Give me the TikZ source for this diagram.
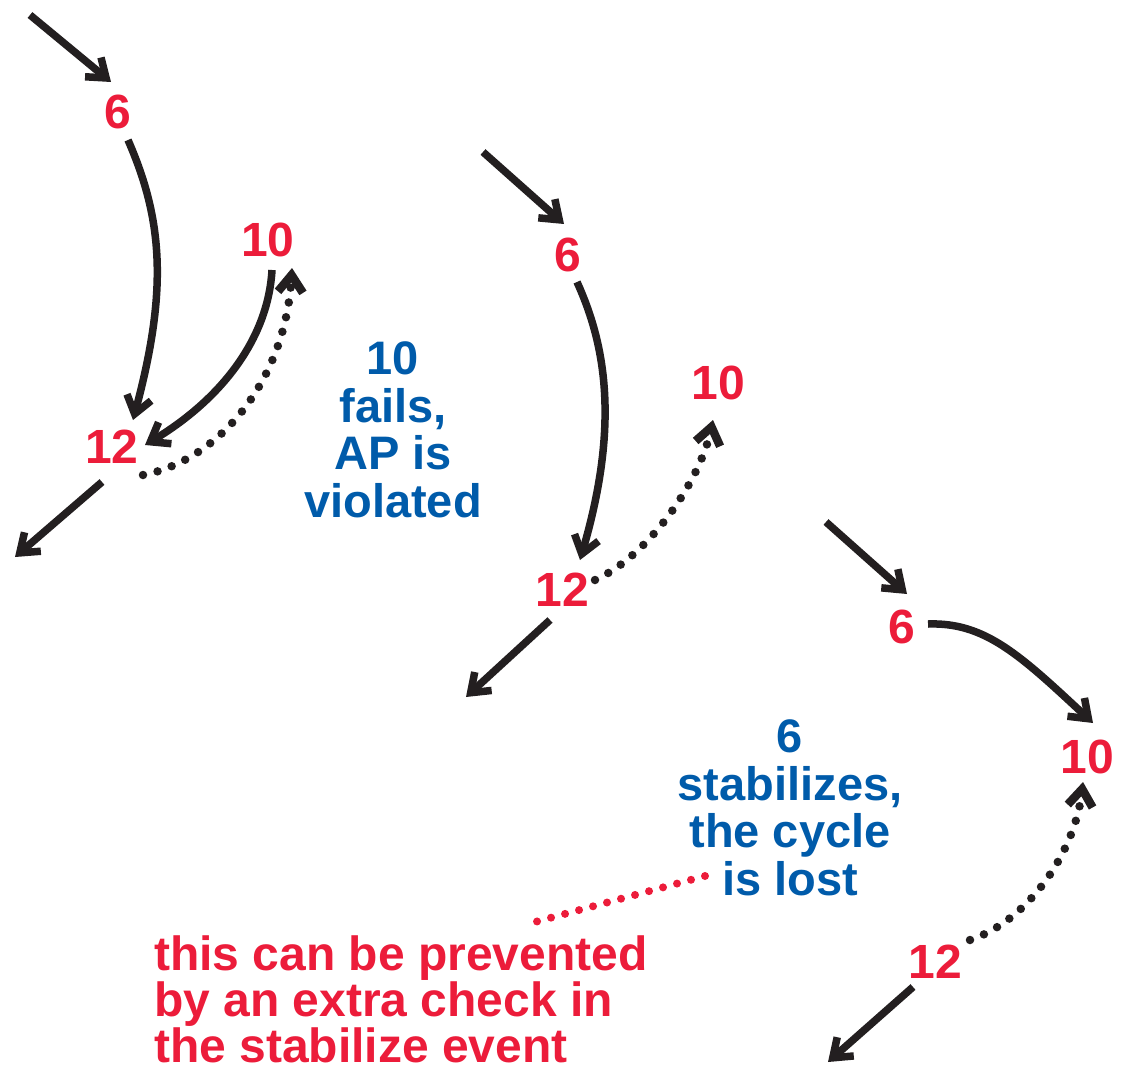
\documentclass[tikz,border=0pt]{standalone}
\usepackage{fontspec}
\setmainfont{Liberation Sans}
\usetikzlibrary{arrows.meta}
\definecolor{nred}{RGB}{236,28,58}
\definecolor{nblue}{RGB}{0,91,170}
\definecolor{ink}{RGB}{35,31,32}
\begin{document}
\begin{tikzpicture}[x=1pt,y=-1pt,
  num/.style={text=nred, font=\fontsize{48}{48}\selectfont\bfseries, inner sep=0pt},
  note/.style={text=nblue, font=\fontsize{47}{47.5}\selectfont\bfseries, align=center, inner sep=0pt},
  remark/.style={text=nred, font=\fontsize{48}{46}\selectfont\bfseries, align=left, inner sep=0pt},
  tip/.style={-{Straight Barb[length=17pt,width=25pt]}},
  link/.style={draw=ink, line width=7.5pt, tip},
  dots/.style={draw=ink, line width=8.5pt, line cap=round, dash pattern=on 0pt off 15pt, tip},
  reddots/.style={draw=nred, line width=8pt, line cap=round, dash pattern=on 0pt off 14.5pt}
]
\useasboundingbox (0,0) rectangle (1126,1067);

% ---------- group 1 ----------
\node[num] (a6) at (118,112) {6};
\node[num] (a12) at (112,447) {12};
\node[num] (a10) at (268,240) {10};
\coordinate (ain) at (30,15);
\coordinate (aout) at (15,557);
\draw[link] (ain) -- ([shift={(-7,-30)}]a6.center);
\draw[link] ([shift={(10,28)}]a6.center) .. controls (163,220) and (168,290) .. ([shift={(21,-27)}]a12.center);
\draw[link] ([shift={(4,30)}]a10.center) .. controls (268,340) and (220,400) .. ([shift={(33,-2)}]a12.center);
\draw[dots] ([shift={(31,28)}]a12.center) .. controls (220,460) and (285,380) .. ([shift={(24,28)}]a10.center);
\draw[link] ([shift={(-10,35)}]a12.center) -- (aout);

\node[note] (n1) at (393,430) {10\\fails,\\AP is\\violated};

% ---------- group 2 ----------
\node[num] (b6) at (568,255) {6};
\node[num] (b12) at (562,590) {12};
\node[num] (b10) at (718,383) {10};
\coordinate (bin) at (483,152);
\coordinate (bout) at (466,697);
\draw[link] (bin) -- ([shift={(-4,-31)}]b6.center);
\draw[link] ([shift={(9,27)}]b6.center) .. controls (608,350) and (618,430) .. ([shift={(18,-30)}]b12.center);
\draw[dots] ([shift={(33,-10)}]b12.center) .. controls (650,555) and (700,480) .. ([shift={(-5,37)}]b10.center);
\draw[link] ([shift={(-12,30)}]b12.center) -- (bout);

% ---------- group 3 ----------
\node[num] (c6) at (902,627) {6};
\node[num] (c10) at (1087,757) {10};
\node[num] (c12) at (935,962) {12};
\coordinate (cin) at (826,522);
\coordinate (cout) at (828,1062);
\draw[link] (cin) -- ([shift={(5,-33)}]c6.center);
\draw[link] ([shift={(26,-3)}]c6.center) .. controls (985,622) and (1020,655) .. ([shift={(6,-34)}]c10.center);
\draw[dots] ([shift={(35,-22)}]c12.center) .. controls (1030,920) and (1075,850) .. ([shift={(-4,25)}]c10.center);
\draw[link] ([shift={(-22,25)}]c12.center) -- (cout);

\node[note] (n2) at (790,808) {6\\stabilizes,\\the cycle\\is lost};

% ---------- remark ----------
\node[remark, anchor=north west] (rem) at (154,936) {this can be prevented\\by an extra check in\\the stabilize event};
\coordinate (r1) at (705,876);
\coordinate (r2) at (535,922);
\draw[reddots] (r1) -- (r2);
\end{tikzpicture}
\end{document}
